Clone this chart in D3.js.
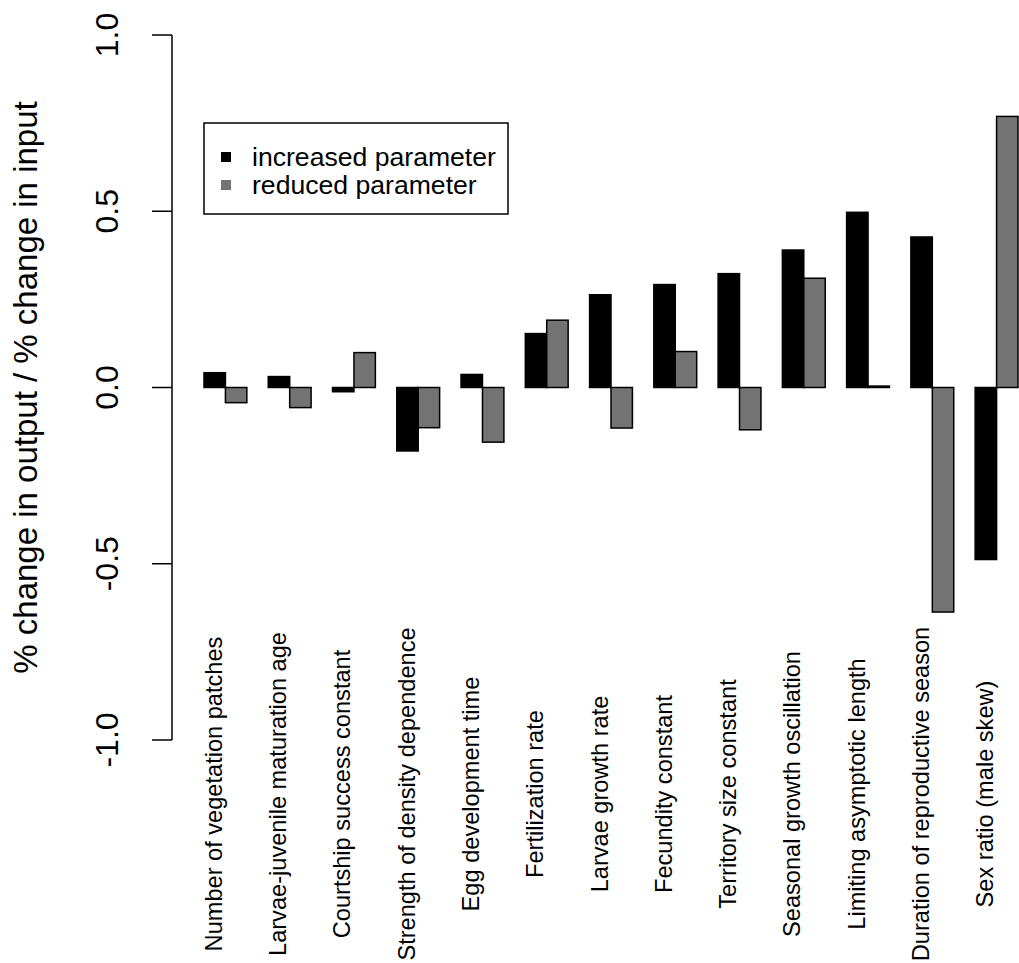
<!DOCTYPE html>
<html>
<head>
<meta charset="utf-8">
<script src="https://cdn.jsdelivr.net/npm/d3@7"></script>
<style>
  body { margin: 0; background: #fff; }
  text { font-family: "Liberation Sans", Arial, sans-serif; fill: #000; }
</style>
</head>
<body>
<div id="chart"></div>
<script>
// Sensitivity values
const parameters = [
  "Number of vegetation patches",
  "Larvae-juvenile maturation age",
  "Courtship success constant",
  "Strength of density dependence",
  "Egg development time",
  "Fertilization rate",
  "Larvae growth rate",
  "Fecundity constant",
  "Territory size constant",
  "Seasonal growth oscillation",
  "Limiting asymptotic length",
  "Duration of reproductive season",
  "Sex ratio (male skew)"
];
const increased = [0.042, 0.031, -0.012, -0.18, 0.037, 0.153, 0.263, 0.292, 0.323, 0.39, 0.497, 0.427, -0.488];
const reduced = [-0.043, -0.057, 0.099, -0.114, -0.155, 0.191, -0.115, 0.102, -0.12, 0.31, 0.004, -0.637, 0.769];
const seriesNames = ["increased parameter", "reduced parameter"];
const seriesColors = ["#000000", "#737373"];
const yTicks = [-1.0, -0.5, 0.0, 0.5, 1.0];

const W = 1019, H = 963;

const svg = d3.select("#chart")
    .append("svg")
    .attr("width", W)
    .attr("height", H);

// Scales
const x = d3.scaleBand()
    .domain(parameters)
    .range([204, 1018])
    .paddingInner(1 / 3)
    .paddingOuter(0);

const xInner = d3.scaleBand()
    .domain(seriesNames)
    .range([0, x.bandwidth()]);

const y = d3.scaleLinear().domain([-1, 1]).range([740, 35]);

// Bars
const rows = parameters.map((p, i) => ({
    name: p,
    values: [
        { series: seriesNames[0], value: increased[i] },
        { series: seriesNames[1], value: reduced[i] }
    ]
}));

const groups = svg.selectAll(".group")
    .data(rows)
    .enter()
    .append("g")
    .attr("class", "group")
    .attr("transform", d => `translate(${x(d.name)},0)`);

groups.selectAll("rect")
    .data(d => d.values)
    .enter()
    .append("rect")
    .attr("x", d => xInner(d.series))
    .attr("width", xInner.bandwidth())
    .attr("y", d => y(Math.max(0, d.value)))
    .attr("height", d => Math.abs(y(d.value) - y(0)))
    .attr("fill", (d, i) => seriesColors[i])
    .attr("stroke", "#000")
    .attr("stroke-width", 1.5);

// Y axis
const axisX = 172;
const yAxis = svg.append("g");
yAxis.append("line")
    .attr("x1", axisX).attr("x2", axisX)
    .attr("y1", y(-1)).attr("y2", y(1))
    .attr("stroke", "#000").attr("stroke-width", 1.5);
yAxis.selectAll(".tick")
    .data(yTicks)
    .enter()
    .append("line")
    .attr("x1", axisX - 20).attr("x2", axisX)
    .attr("y1", d => y(d)).attr("y2", d => y(d))
    .attr("stroke", "#000").attr("stroke-width", 1.5);
yAxis.selectAll(".tick-label")
    .data(yTicks)
    .enter()
    .append("text")
    .attr("transform", d => `translate(118,${y(d)}) rotate(-90)`)
    .attr("text-anchor", "middle")
    .style("font-size", "32px")
    .text(d => d.toFixed(1));

// Y axis title
svg.append("text")
    .attr("transform", `translate(37,${y(0)}) rotate(-90)`)
    .attr("text-anchor", "middle")
    .style("font-size", "33px")
    .text("% change in output / % change in input");

// Category labels
svg.selectAll(".x-label")
    .data(parameters)
    .enter()
    .append("text")
    .attr("class", "x-label")
    .attr("transform", d => `translate(${x(d) + x.bandwidth() / 2 - 3.5},794) rotate(-90)`)
    .attr("text-anchor", "middle")
    .style("font-size", "23.6px")
    .text(d => d);

// Legend
const legend = svg.append("g");
legend.append("rect")
    .attr("x", 204).attr("y", 123)
    .attr("width", 304).attr("height", 91)
    .attr("fill", "none")
    .attr("stroke", "#000").attr("stroke-width", 1.5);

const legendItems = legend.selectAll(".legend-item")
    .data(seriesNames)
    .enter()
    .append("g")
    .attr("transform", (d, i) => `translate(0,${157 + i * 28})`);

legendItems.append("rect")
    .attr("x", 221).attr("y", -5)
    .attr("width", 10).attr("height", 10)
    .attr("fill", (d, i) => seriesColors[i]);

legendItems.append("text")
    .attr("x", 252)
    .attr("dy", "0.35em")
    .style("font-size", "26.6px")
    .text(d => d);
</script>
</body>
</html>
